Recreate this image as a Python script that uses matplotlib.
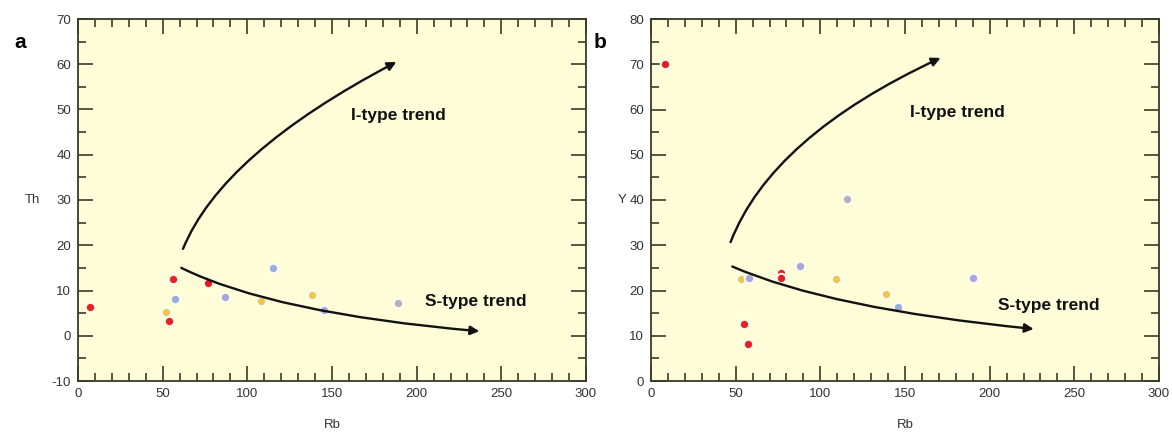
import matplotlib
matplotlib.use("Agg")
import matplotlib.pyplot as plt
from matplotlib.patches import FancyArrowPatch
from matplotlib.path import Path
from matplotlib.ticker import MultipleLocator
from matplotlib import font_manager

# ---------------- data ----------------
# Panel a: Th vs Rb
a_red_rb = [7, 56, 54, 76, 77]
a_red_th = [6.3, 12.6, 3.3, 12.2, 11.7]
a_yellow_rb = [52, 108, 138]
a_yellow_th = [5.2, 7.7, 8.9]
a_blue_rb = [57, 115]
a_blue_th = [8.2, 15.0]
a_purple_rb = [87, 145]
a_purple_th = [8.6, 5.8]
a_grey_rb = [189]
a_grey_th = [7.3]

# Panel b: Y vs Rb
b_red_rb = [8, 55, 57, 77, 77]
b_red_y = [70, 12.7, 8.2, 23.8, 22.8]
b_yellow_rb = [53, 109, 139]
b_yellow_y = [22.5, 22.5, 19.2]
b_blue_rb = [146]
b_blue_y = [16.4]
b_purple_rb = [58, 88, 190]
b_purple_y = [22.8, 25.4, 22.8]
b_grey_rb = [116]
b_grey_y = [40.2]

# trend arrows (start, control, end) in data units
a_itype = [(62, 19.2), (85, 40.3), (188, 60.5)]
a_stype = [(61, 15.0), (115, 5.0), (237, 1.0)]
b_itype = [(47, 30.7), (71, 54.0), (171, 71.4)]
b_stype = [(48, 25.3), (105, 16.0), (226, 11.5)]

names = {f.name for f in font_manager.fontManager.ttflist}
tick_family = ["Liberation Sans Narrow", "Liberation Sans", "DejaVu Sans"]
tick_family = [f for f in tick_family if f in names] or ["DejaVu Sans"]
plt.rcParams["font.family"] = tick_family
plt.rcParams["axes.unicode_minus"] = False

BG = "#FEFDD8"
SPINE = "#3a3a2a"
colors = {"red": "#E3161B", "yellow": "#EFC24E", "blue": "#93A9DF",
          "purple": "#A3A3DA", "grey": "#AFAFBE"}

fig = plt.figure(figsize=(11.72, 4.32), dpi=100)
ax_a = fig.add_axes([78 / 1172, 51 / 432, 508 / 1172, 362 / 432])
ax_b = fig.add_axes([651 / 1172, 51 / 432, 508 / 1172, 362 / 432])


def style(ax, ylim, ylabel, label, lab_x, ylab_x):
    ax.set_facecolor(BG)
    ax.set_xlim(0, 300)
    ax.set_ylim(*ylim)
    ax.xaxis.set_major_locator(MultipleLocator(50))
    ax.xaxis.set_minor_locator(MultipleLocator(10))
    ax.yaxis.set_major_locator(MultipleLocator(10))
    ax.yaxis.set_minor_locator(MultipleLocator(5))
    ax.tick_params(which="both", direction="in", top=True, right=True,
                   color=SPINE, width=1.2, labelsize=9.5, labelcolor="#333333")
    ax.tick_params(which="major", length=11, pad=5)
    ax.tick_params(which="minor", length=6)
    for s in ax.spines.values():
        s.set_color(SPINE)
        s.set_linewidth(1.3)
    ax.set_xlabel("Rb", fontsize=9.5, color="#333333")
    ax.xaxis.set_label_coords(0.5, -0.105)
    ax.set_ylabel(ylabel, fontsize=9.5, color="#333333", rotation=0,
                  va="center", ha="center")
    ax.yaxis.set_label_coords(ylab_x, 0.5)
    ax.text(lab_x, 0.935, label, transform=ax.transAxes, fontsize=15,
            fontweight="bold", family=["Liberation Sans", "DejaVu Sans"],
            ha="center", va="center")


def points(ax, series):
    for rb, v, c in series:
        ax.scatter(rb, v, s=46, color=colors[c], edgecolors="#fffff0",
                   linewidths=1.5, alpha=0.95, zorder=3)


def arrow(ax, pts):
    path = Path(pts, [Path.MOVETO, Path.CURVE3, Path.CURVE3])
    ax.add_patch(FancyArrowPatch(path=path, arrowstyle="-|>",
                                 mutation_scale=13, lw=1.7, color="#111111",
                                 zorder=4))


style(ax_a, (-10, 70), "Th", "a", -0.114, -0.089)
style(ax_b, (0, 80), "Y", "b", -0.10, -0.057)

points(ax_a, [(a_red_rb, a_red_th, "red"), (a_yellow_rb, a_yellow_th, "yellow"),
              (a_blue_rb, a_blue_th, "blue"), (a_purple_rb, a_purple_th, "purple"),
              (a_grey_rb, a_grey_th, "grey")])
points(ax_b, [(b_red_rb, b_red_y, "red"), (b_yellow_rb, b_yellow_y, "yellow"),
              (b_blue_rb, b_blue_y, "blue"), (b_purple_rb, b_purple_y, "purple"),
              (b_grey_rb, b_grey_y, "grey")])

arrow(ax_a, a_itype)
arrow(ax_a, a_stype)
arrow(ax_b, b_itype)
arrow(ax_b, b_stype)

tfont = dict(fontsize=12.5, fontweight="bold", color="#111111",
             family=["Liberation Sans", "DejaVu Sans"], ha="center", va="center")
ax_a.text(189, 48.6, "I-type trend", **tfont)
ax_a.text(235, 7.6, "S-type trend", **tfont)
ax_b.text(181, 59.4, "I-type trend", **tfont)
ax_b.text(235, 16.6, "S-type trend", **tfont)

fig.savefig("out.png", dpi=100, facecolor="white")
